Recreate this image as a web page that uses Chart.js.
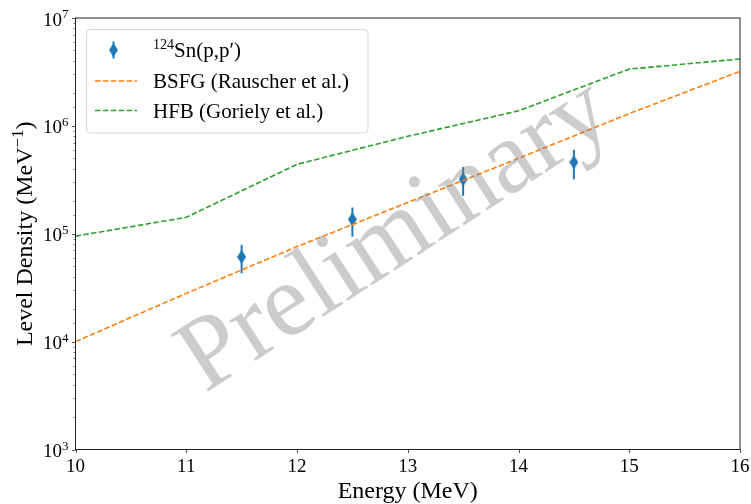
<!DOCTYPE html>
<html>
<head>
<meta charset="utf-8">
<script src="https://cdn.jsdelivr.net/npm/chart.js@4"></script>
<style>
  html, body { margin: 0; padding: 0; background: #fff; }
  #wrap { width: 751px; height: 504px; }
</style>
</head>
<body>
<div id="wrap"><canvas id="ldChart"></canvas></div>
<script>
// model curves, evaluated at integer energies (MeV)
const energies = [10, 11, 12, 13, 14, 15, 16];
const bsfg = [1.0e4, 2.8e4, 7.6e4, 1.95e5, 5.0e5, 1.3e6, 3.2e6];
const hfb = [9.5e4, 1.42e5, 4.4e5, 8.0e5, 1.38e6, 3.36e6, 4.17e6];

// 124Sn(p,p') measurement with error bar ends
const expEnergy = [11.5, 12.5, 13.5, 14.5];
const expDensity = [6.1e4, 1.36e5, 3.2e5, 4.6e5];
const expLower = [4.3e4, 9.4e4, 2.25e5, 3.2e5];
const expUpper = [7.9e4, 1.75e5, 4.15e5, 6.0e5];

// y axis labels: 10^n
const decadeExps = [3, 4, 5, 6, 7];
const xTicks = [10, 11, 12, 13, 14, 15, 16];

const BLUE = '#1f77b4', ORANGE = '#ff7f0e', GREEN = '#2ca02c';
const SERIF = '"Liberation Serif", "DejaVu Serif", serif';

// thin diamond marker as an image point style
function thinDiamond(w, h, color) {
  const c = document.createElement('canvas');
  c.width = w; c.height = h;
  const g = c.getContext('2d');
  g.fillStyle = color;
  g.beginPath();
  g.moveTo(w / 2, 0);
  g.lineTo(w, h / 2);
  g.lineTo(w / 2, h);
  g.lineTo(0, h / 2);
  g.closePath();
  g.fill();
  return c;
}
const diamond = thinDiamond(9, 14, BLUE);

const errorBars = {
  id: 'errorBars',
  beforeDatasetDraw(chart, args) {
    if (args.index !== 0) return;
    const { ctx, scales: { x, y } } = chart;
    ctx.save();
    ctx.strokeStyle = BLUE;
    ctx.lineWidth = 2;
    expEnergy.forEach((e, i) => {
      const px = x.getPixelForValue(e);
      ctx.beginPath();
      ctx.moveTo(px, y.getPixelForValue(expLower[i]));
      ctx.lineTo(px, y.getPixelForValue(expUpper[i]));
      ctx.stroke();
    });
    ctx.restore();
  }
};

function supText(ctx, base, sup, xRight, baseY, size) {
  // right-aligned "base^sup"
  ctx.font = size + 'px ' + SERIF;
  const bw = ctx.measureText(base).width;
  ctx.font = Math.round(size * 0.7) + 'px ' + SERIF;
  const sw = ctx.measureText(sup).width;
  ctx.textAlign = 'left';
  ctx.textBaseline = 'alphabetic';
  ctx.fillText(sup, xRight - sw, baseY - size * 0.38);
  ctx.font = size + 'px ' + SERIF;
  ctx.fillText(base, xRight - sw - bw, baseY);
}

const decorations = {
  id: 'decorations',
  afterDatasetsDraw(chart) {
    const { ctx, chartArea: a, scales: { x, y } } = chart;
    ctx.save();

    // watermark
    ctx.save();
    ctx.translate(396, 237);
    ctx.rotate(-33 * Math.PI / 180);
    ctx.font = '104px ' + SERIF;
    ctx.fillStyle = 'rgba(128,128,128,0.4)';
    ctx.textAlign = 'center';
    ctx.textBaseline = 'middle';
    ctx.fillText('Preliminary', 0, 0);
    ctx.restore();

    // frame
    ctx.strokeStyle = '#222';
    ctx.lineWidth = 1;
    ctx.strokeRect(a.left, a.top, a.right - a.left, a.bottom - a.top);

    // tick marks
    ctx.strokeStyle = '#222';
    ctx.lineWidth = 0.8;
    xTicks.forEach(v => {
      const px = Math.round(x.getPixelForValue(v)) + 0.5;
      ctx.beginPath();
      ctx.moveTo(px, a.bottom);
      ctx.lineTo(px, a.bottom + 3.5);
      ctx.stroke();
    });
    y.ticks.forEach(t => {
      const py = Math.round(y.getPixelForValue(t.value)) + 0.5;
      const major = decadeExps.some(e => Math.abs(Math.log10(t.value) - e) < 1e-6);
      ctx.lineWidth = major ? 0.8 : 0.6;
      ctx.beginPath();
      ctx.moveTo(a.left, py);
      ctx.lineTo(a.left - (major ? 3.5 : 2), py);
      ctx.stroke();
    });

    // y tick labels
    ctx.fillStyle = '#000';
    decadeExps.forEach(e => {
      const py = y.getPixelForValue(Math.pow(10, e));
      supText(ctx, '10', String(e), a.left - 7, py + 7.5, 19);
    });

    // axis titles
    ctx.font = '24px ' + SERIF;
    ctx.textAlign = 'center';
    ctx.textBaseline = 'alphabetic';
    ctx.fillText('Energy (MeV)', (a.left + a.right) / 2, 498);

    ctx.save();
    ctx.translate(31.5, (a.top + a.bottom) / 2);
    ctx.rotate(-Math.PI / 2);
    const p1 = 'Level Density (MeV', p2 = '\u22121', p3 = ')';
    ctx.font = '24px ' + SERIF;
    const w1 = ctx.measureText(p1).width, w3 = ctx.measureText(p3).width;
    ctx.font = '17px ' + SERIF;
    const w2 = ctx.measureText(p2).width;
    const start = -(w1 + w2 + w3) / 2;
    ctx.textAlign = 'left';
    ctx.font = '24px ' + SERIF;
    ctx.fillText(p1, start, 0);
    ctx.fillText(p3, start + w1 + w2, 0);
    ctx.font = '17px ' + SERIF;
    ctx.fillText(p2, start + w1, -9);
    ctx.restore();

    // legend
    const lx = 86.5, ly = 29.5, lw = 281.5, lh = 103.5;
    ctx.beginPath();
    ctx.roundRect(lx, ly, lw, lh, 4);
    ctx.fillStyle = 'rgba(255,255,255,0.8)';
    ctx.fill();
    ctx.strokeStyle = '#d5d5d5';
    ctx.lineWidth = 1;
    ctx.stroke();

    const rows = [50, 81, 110.5];
    // errorbar entry
    ctx.strokeStyle = BLUE;
    ctx.lineWidth = 2;
    ctx.beginPath();
    ctx.moveTo(113.5, rows[0] - 8.5);
    ctx.lineTo(113.5, rows[0] + 8.5);
    ctx.stroke();
    ctx.drawImage(diamond, 113.5 - 4.5, rows[0] - 7);
    // dashed line entries
    [[ORANGE, rows[1]], [GREEN, rows[2]]].forEach(([c, ry]) => {
      ctx.strokeStyle = c;
      ctx.lineWidth = 1.6;
      ctx.setLineDash([5.5, 2.4]);
      ctx.beginPath();
      ctx.moveTo(95, ry);
      ctx.lineTo(137, ry);
      ctx.stroke();
    });
    ctx.setLineDash([]);

    ctx.fillStyle = '#000';
    ctx.textAlign = 'left';
    ctx.textBaseline = 'alphabetic';
    ctx.font = '14px ' + SERIF;
    ctx.fillText('124', 153, rows[0] - 1);
    const sw = ctx.measureText('124').width;
    ctx.font = '21px ' + SERIF;
    ctx.fillText('Sn(p,p\u2032)', 153 + sw, rows[0] + 7);
    ctx.fillText('BSFG (Rauscher et al.)', 153, rows[1] + 7);
    ctx.fillText('HFB (Goriely et al.)', 153, rows[2] + 7);

    ctx.restore();
  }
};

new Chart(document.getElementById('ldChart'), {
  type: 'line',
  data: {
    datasets: [{
      label: '124Sn(p,p\u2032)',
      data: expEnergy.map((e, i) => ({ x: e, y: expDensity[i] })),
      showLine: false,
      pointStyle: diamond,
      order: 3
    }, {
      label: 'BSFG (Rauscher et al.)',
      data: energies.map((e, i) => ({ x: e, y: bsfg[i] })),
      borderColor: ORANGE,
      borderWidth: 1.6,
      borderDash: [5.5, 2.4],
      pointRadius: 0,
      fill: false,
      tension: 0,
      order: 1
    }, {
      label: 'HFB (Goriely et al.)',
      data: energies.map((e, i) => ({ x: e, y: hfb[i] })),
      borderColor: GREEN,
      borderWidth: 1.6,
      borderDash: [5.5, 2.4],
      pointRadius: 0,
      fill: false,
      tension: 0,
      order: 2
    }]
  },
  options: {
    responsive: true,
    maintainAspectRatio: false,
    animation: false,
    layout: { padding: { top: 18, right: 11, left: 0, bottom: 0 } },
    plugins: { legend: { display: false }, tooltip: { enabled: false } },
    scales: {
      x: {
        type: 'linear',
        min: 10,
        max: 16,
        grid: { display: false },
        border: { display: false },
        ticks: {
          stepSize: 1,
          color: '#000',
          padding: -2,
          font: { family: SERIF, size: 19 }
        },
        afterFit(scale) {
          scale.height = 54.5;
          scale.paddingLeft = 0;
          scale.paddingRight = 0;
        }
      },
      y: {
        type: 'logarithmic',
        min: 1e3,
        max: 1e7,
        grid: { display: false },
        border: { display: false },
        ticks: { display: false, autoSkip: false },
        afterFit(scale) { scale.width = 75.5; }
      }
    }
  },
  plugins: [errorBars, decorations]
});
</script>
</body>
</html>
